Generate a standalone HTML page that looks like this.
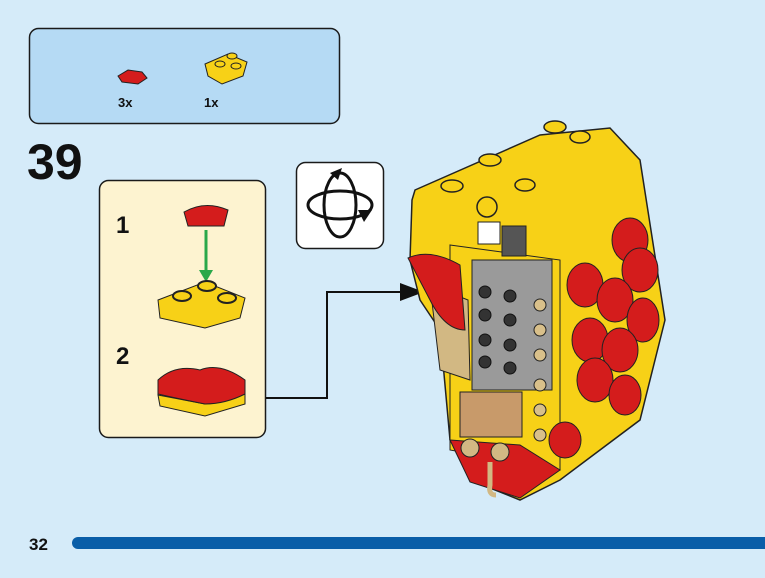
<!DOCTYPE html>
<html><head><meta charset="utf-8"><style>
html,body{margin:0;padding:0}
body{width:765px;height:578px;background:#d5ebf9;position:relative;overflow:hidden;font-family:"Liberation Sans",sans-serif}
</style></head><body>
<svg width="765" height="578" viewBox="0 0 765 578" style="position:absolute;left:0;top:0">
<rect width="765" height="578" fill="#d5ebf9"/>
<!-- parts box -->
<rect x="29.5" y="28.5" width="310" height="95" rx="9" fill="#b5daf4" stroke="#1a1a1a" stroke-width="1.5"/>
<polygon points="118,76 128,70 142,72 147,78 138,84 122,82" fill="#d41c1c" stroke="#222" stroke-width="1"/>
<polygon points="205,64 228,54 247,62 243,76 222,84 208,76" fill="#f7d117" stroke="#222" stroke-width="1"/>
<ellipse cx="232" cy="56" rx="5" ry="3" fill="#f7d117" stroke="#222"/>
<ellipse cx="220" cy="64" rx="5" ry="3" fill="#f7d117" stroke="#222"/>
<ellipse cx="236" cy="66" rx="5" ry="3" fill="#f7d117" stroke="#222"/>
<text x="118" y="107" font-size="13" font-weight="bold" fill="#111">3x</text>
<text x="204" y="107" font-size="13" font-weight="bold" fill="#111">1x</text>
<!-- step number -->
<text x="27" y="179" font-size="50" font-weight="bold" fill="#111">39</text>
<!-- substep panel -->
<rect x="99.5" y="180.5" width="166" height="257" rx="9" fill="#fdf3d0" stroke="#1a1a1a" stroke-width="1.5"/>
<text x="116" y="233" font-size="24" font-weight="bold" fill="#111">1</text>
<text x="116" y="364" font-size="24" font-weight="bold" fill="#111">2</text>
<path d="M184,212 Q205,200 228,210 L224,226 L188,226 Z" fill="#d41c1c" stroke="#222"/>
<line x1="206" y1="230" x2="206" y2="272" stroke="#2aa84a" stroke-width="3"/>
<polygon points="199,270 213,270 206,282" fill="#2aa84a"/>
<polygon points="158,300 205,282 245,298 240,318 205,328 160,318" fill="#f7d117" stroke="#222"/>
<ellipse cx="182" cy="296" rx="9" ry="5" fill="#f7d117" stroke="#222" stroke-width="2"/>
<ellipse cx="207" cy="286" rx="9" ry="5" fill="#f7d117" stroke="#222" stroke-width="2"/>
<ellipse cx="227" cy="298" rx="9" ry="5" fill="#f7d117" stroke="#222" stroke-width="2"/>
<polygon points="158,395 160,406 205,416 245,404 245,394 205,404" fill="#f7d117" stroke="#222"/>
<path d="M158,380 Q175,364 200,370 Q220,362 245,380 L245,394 Q225,404 205,404 Q175,398 158,394 Z" fill="#d41c1c" stroke="#222"/>
<!-- rotate icon -->
<rect x="296.5" y="162.5" width="87" height="86" rx="9" fill="#fff" stroke="#1a1a1a" stroke-width="1.5"/>
<ellipse cx="340" cy="205" rx="16" ry="32" fill="none" stroke="#111" stroke-width="3"/>
<ellipse cx="340" cy="205" rx="32" ry="14" fill="none" stroke="#111" stroke-width="3"/>
<polygon points="358,210 372,210 364,222" fill="#111"/>
<polygon points="330,173 342,168 338,180" fill="#111"/>
<!-- connector -->
<polyline points="266,398 327,398 327,292 402,292" fill="none" stroke="#111" stroke-width="2"/>
<polygon points="400,283 424,292 400,301" fill="#111"/>
<!-- model -->
<polygon points="415,190 540,135 610,128 640,160 665,320 640,420 560,480 520,500 470,480 450,440 440,330 420,300 410,260 412,200" fill="#f7d117" stroke="#222" stroke-width="1.5"/>
<polygon points="450,245 560,260 560,470 450,450" fill="#f7d117" stroke="#222"/>
<rect x="472" y="260" width="80" height="130" fill="#9a9a9a" stroke="#222"/>
<g fill="#333" stroke="#111">
<circle cx="485" cy="292" r="6"/><circle cx="510" cy="296" r="6"/><circle cx="485" cy="315" r="6"/><circle cx="510" cy="320" r="6"/><circle cx="485" cy="340" r="6"/><circle cx="510" cy="345" r="6"/><circle cx="485" cy="362" r="6"/><circle cx="510" cy="368" r="6"/>
</g>
<g fill="#d9c08a" stroke="#222"><circle cx="540" cy="305" r="6"/><circle cx="540" cy="330" r="6"/><circle cx="540" cy="355" r="6"/><circle cx="540" cy="385" r="6"/><circle cx="540" cy="410" r="6"/><circle cx="540" cy="435" r="6"/></g>
<rect x="478" y="222" width="22" height="22" fill="#fff" stroke="#222"/>
<rect x="502" y="226" width="24" height="30" fill="#555" stroke="#222"/>
<polygon points="430,285 468,300 470,380 440,370" fill="#d2b883" stroke="#222"/>
<path d="M408,258 Q430,248 460,265 L465,330 Q445,330 430,300 Z" fill="#d41c1c" stroke="#222"/>
<rect x="460" y="392" width="62" height="45" fill="#c89a6a" stroke="#222"/>
<polygon points="450,440 520,445 560,470 520,498 470,482" fill="#d41c1c" stroke="#222"/>
<circle cx="470" cy="448" r="9" fill="#d2b883" stroke="#222"/>
<circle cx="500" cy="452" r="9" fill="#d2b883" stroke="#222"/>
<path d="M490,462 L490,485 Q488,495 496,495" fill="none" stroke="#d2b883" stroke-width="5"/>
<g fill="#d41c1c" stroke="#222">
<ellipse cx="630" cy="240" rx="18" ry="22"/><ellipse cx="640" cy="270" rx="18" ry="22"/>
<ellipse cx="585" cy="285" rx="18" ry="22"/><ellipse cx="615" cy="300" rx="18" ry="22"/><ellipse cx="643" cy="320" rx="16" ry="22"/>
<ellipse cx="590" cy="340" rx="18" ry="22"/><ellipse cx="620" cy="350" rx="18" ry="22"/>
<ellipse cx="595" cy="380" rx="18" ry="22"/><ellipse cx="625" cy="395" rx="16" ry="20"/>
<ellipse cx="565" cy="440" rx="16" ry="18"/>
</g>
<g fill="#f7d117" stroke="#222" stroke-width="1.5">
<ellipse cx="490" cy="160" rx="11" ry="6"/><ellipse cx="452" cy="186" rx="11" ry="6"/><ellipse cx="555" cy="127" rx="11" ry="6"/><ellipse cx="580" cy="137" rx="10" ry="6"/><ellipse cx="525" cy="185" rx="10" ry="6"/><ellipse cx="487" cy="207" rx="10" ry="10"/>
</g>
<!-- footer -->
<text x="29" y="550" font-size="17" font-weight="bold" fill="#111">32</text>
<rect x="72" y="537" width="710" height="12" rx="6" fill="#0a5ea8"/>
</svg>
</body></html>
